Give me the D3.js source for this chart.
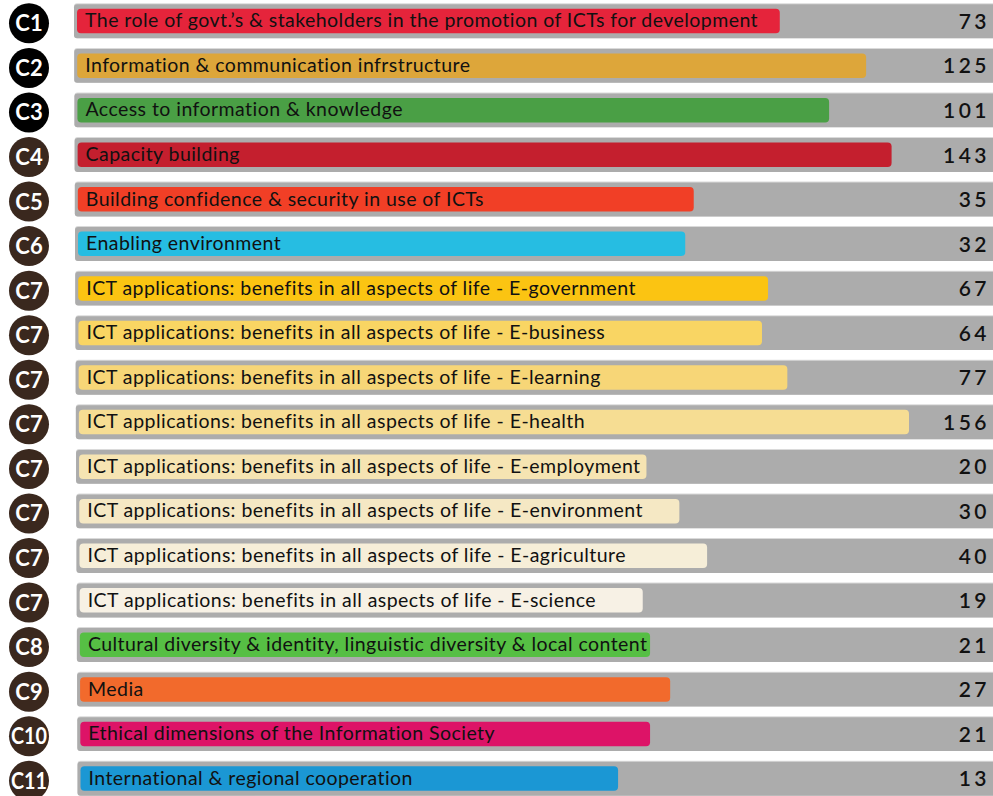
<!DOCTYPE html>
<html lang="en">
<head>
<meta charset="UTF-8">
<title>WSIS action lines</title>
<script src="https://cdn.jsdelivr.net/npm/d3@7"></script>
<style>
  body { margin: 0; background: #fff; }
  svg { display: block; }
</style>
</head>
<body>
<script>
  // action line codes, descriptions and counts, top to bottom
  var codes = ["C1", "C2", "C3", "C4", "C5", "C6", "C7", "C7", "C7", "C7", "C7", "C7", "C7", "C7", "C8", "C9", "C10", "C11"];
  var labels = [
    "The role of govt.\u2019s & stakeholders in the promotion of ICTs for development",
    "Information & communication infrstructure",
    "Access to information & knowledge",
    "Capacity building",
    "Building confidence & security in use of ICTs",
    "Enabling environment",
    "ICT applications: benefits in all aspects of life - E-government",
    "ICT applications: benefits in all aspects of life - E-business",
    "ICT applications: benefits in all aspects of life - E-learning",
    "ICT applications: benefits in all aspects of life - E-health",
    "ICT applications: benefits in all aspects of life - E-employment",
    "ICT applications: benefits in all aspects of life - E-environment",
    "ICT applications: benefits in all aspects of life - E-agriculture",
    "ICT applications: benefits in all aspects of life - E-science",
    "Cultural diversity & identity, linguistic diversity & local content",
    "Media",
    "Ethical dimensions of the Information Society",
    "International & regional cooperation"
  ];
  var counts = [73, 125, 101, 143, 35, 32, 67, 64, 77, 156, 20, 30, 40, 19, 21, 27, 21, 13];

  var barColors = ["#e5243b", "#dda63a", "#4a9f45", "#c41f2e", "#f13f26", "#26bde2",
                   "#fbc412", "#f9d563", "#f7d677", "#f6dd93", "#f6e4b2", "#f5e8c4", "#f6eed8", "#f7f1e5",
                   "#56bf44", "#f26a2c", "#dd1367", "#1b97d4"];

  var width = 993, height = 796;

  var svg = d3.select("body").append("svg")
      .attr("width", width)
      .attr("height", height);

  var idx = d3.range(codes.length);

  var y = d3.scaleBand()
      .domain(idx)
      .range([-1, 801])
      .paddingInner(0.24)
      .paddingOuter(0.12);

  // rows drift a few pixels to the right going down
  var shift = d3.scaleLinear().domain([0, codes.length - 1]).range([0, 3.5]);

  // bar ends are not linear in the count
  var x = d3.scaleSqrt().domain([0, 156]).range([500, 909]);

  var rows = svg.selectAll("g.row").data(idx).enter().append("g")
      .attr("class", "row")
      .attr("transform", function(i) { return "translate(0," + y(i) + ")"; });

  // grey track
  rows.append("rect")
      .attr("x", function(i) { return 74 + shift(i); })
      .attr("y", -1)
      .attr("width", 940)
      .attr("height", y.bandwidth() + 1)
      .attr("rx", 3)
      .attr("fill", "#dadada");
  rows.append("rect")
      .attr("x", function(i) { return 74 + shift(i); })
      .attr("y", 0)
      .attr("width", 940)
      .attr("height", y.bandwidth())
      .attr("rx", 3)
      .attr("fill", "#acacac");

  // coloured bar
  rows.append("rect")
      .attr("x", function(i) { return 77 + shift(i); })
      .attr("y", 4.5)
      .attr("width", function(i) { return x(counts[i]) - 77 - shift(i); })
      .attr("height", 24.5)
      .attr("rx", 4)
      .attr("fill", function(i) { return barColors[i]; });

  rows.append("text")
      .attr("x", function(i) { return 85 + shift(i); })
      .attr("y", 23)
      .attr("font-family", "Lato, 'DejaVu Sans', sans-serif")
      .attr("font-size", 19.5)
      .attr("letter-spacing", 0.45)
      .attr("fill", "#111")
      .text(function(i) { return labels[i]; });

  rows.append("text")
      .attr("x", 990)
      .attr("y", 24.5)
      .attr("text-anchor", "end")
      .attr("font-family", "Lato, 'DejaVu Sans', sans-serif")
      .attr("font-size", 21)
      .attr("font-weight", 600)
      .attr("letter-spacing", 3.5)
      .attr("fill", "#111")
      .text(function(i) { return counts[i]; });

  // code badges
  rows.append("circle")
      .attr("cx", 29)
      .attr("cy", 19)
      .attr("r", 20)
      .attr("fill", function(i) { return i < 3 ? "#000" : "#3a281e"; });

  rows.append("text")
      .attr("x", 29)
      .attr("y", 27)
      .attr("text-anchor", "middle")
      .attr("font-family", "Lato, 'DejaVu Sans', sans-serif")
      .attr("font-size", 22)
      .attr("font-weight", 700)
      .attr("fill", "#fff")
      .attr("textLength", function(i) { return codes[i].length > 2 ? 36 : null; })
      .attr("lengthAdjust", "spacingAndGlyphs")
      .text(function(i) { return codes[i]; });
</script>
</body>
</html>
